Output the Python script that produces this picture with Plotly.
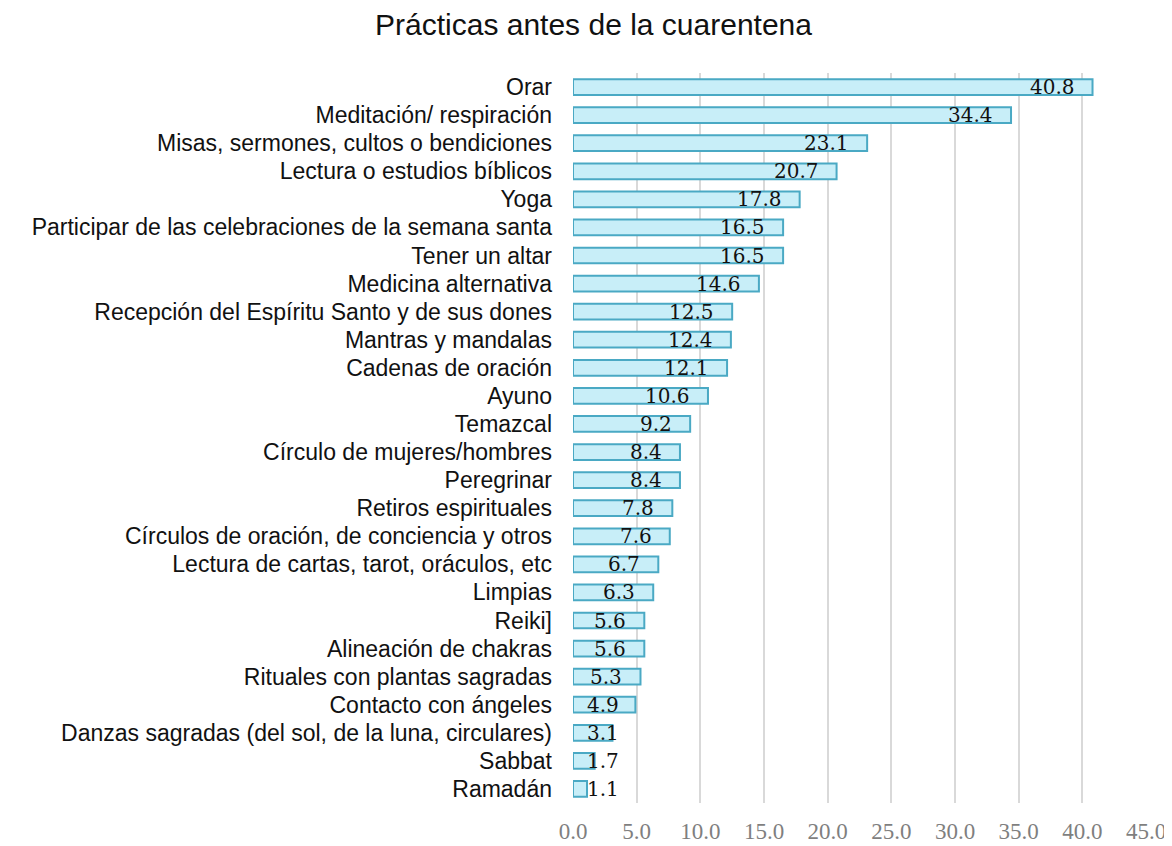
import plotly.graph_objects as go

categorias = [
    "Orar",
    "Meditación/ respiración",
    "Misas, sermones, cultos o bendiciones",
    "Lectura o estudios bíblicos",
    "Yoga",
    "Participar de las celebraciones de la semana santa",
    "Tener un altar",
    "Medicina alternativa",
    "Recepción del Espíritu Santo y de sus dones",
    "Mantras y mandalas",
    "Cadenas de oración",
    "Ayuno",
    "Temazcal",
    "Círculo de mujeres/hombres",
    "Peregrinar",
    "Retiros espirituales",
    "Círculos de oración, de conciencia y otros",
    "Lectura de cartas, tarot, oráculos, etc",
    "Limpias",
    "Reiki]",
    "Alineación de chakras",
    "Rituales con plantas sagradas",
    "Contacto con ángeles",
    "Danzas sagradas (del sol, de la luna, circulares)",
    "Sabbat",
    "Ramadán",
]
porcentajes = [40.8, 34.4, 23.1, 20.7, 17.8, 16.5, 16.5, 14.6, 12.5, 12.4, 12.1,
               10.6, 9.2, 8.4, 8.4, 7.8, 7.6, 6.7, 6.3, 5.6, 5.6, 5.3, 4.9, 3.1,
               1.7, 1.1]
ticks = [0, 5, 10, 15, 20, 25, 30, 35, 40, 45]

fig = go.Figure()

fig.add_trace(go.Bar(
    x=porcentajes,
    y=categorias,
    orientation="h",
    width=0.56,
    marker=dict(color="#c8eef8", line=dict(color="#4aa9c4", width=2)),
    hoverinfo="x+y",
))

# etiquetas dentro del extremo; en barras cortas quedan pegadas al eje
for cat, v in zip(categorias, porcentajes):
    fig.add_annotation(
        x=max(v, 5.0), y=cat,
        text=f"{v:.1f}",
        showarrow=False,
        xanchor="right",
        xshift=-16,
        font=dict(family="DejaVu Serif", size=20, color="#111111"),
    )

# la pagina tiene 8px de margen en el body, se descuenta del tamaño
fig.update_layout(
    width=1164,
    height=838,
    showlegend=False,
    plot_bgcolor="white",
    paper_bgcolor="white",
    margin=dict(l=565, r=26, t=65, b=43),
    title=dict(
        text="Prácticas antes de la cuarentena",
        x=0.503, xanchor="center", y=0.980, yanchor="middle",
        automargin=False,
        font=dict(family="Liberation Sans", size=30, color="#111111"),
    ),
    xaxis=dict(
        range=[0, 45],
        tickvals=ticks,
        ticktext=[f"{t:.1f}" for t in ticks],
        showgrid=True,
        gridcolor="#d9d9d9",
        gridwidth=2,
        zeroline=False,
        showline=False,
        ticks="",
        automargin=False,
        tickfont=dict(family="Liberation Serif", size=23, color="#7f7f7f"),
        ticklabelstandoff=12,
    ),
    yaxis=dict(
        autorange="reversed",
        tickmode="array",
        tickvals=categorias,
        showgrid=False,
        ticks="",
        automargin=False,
        ticklabelstandoff=20,
        tickfont=dict(family="Liberation Sans", size=23, color="#111111"),
    ),
)

fig.write_html("out.html")
